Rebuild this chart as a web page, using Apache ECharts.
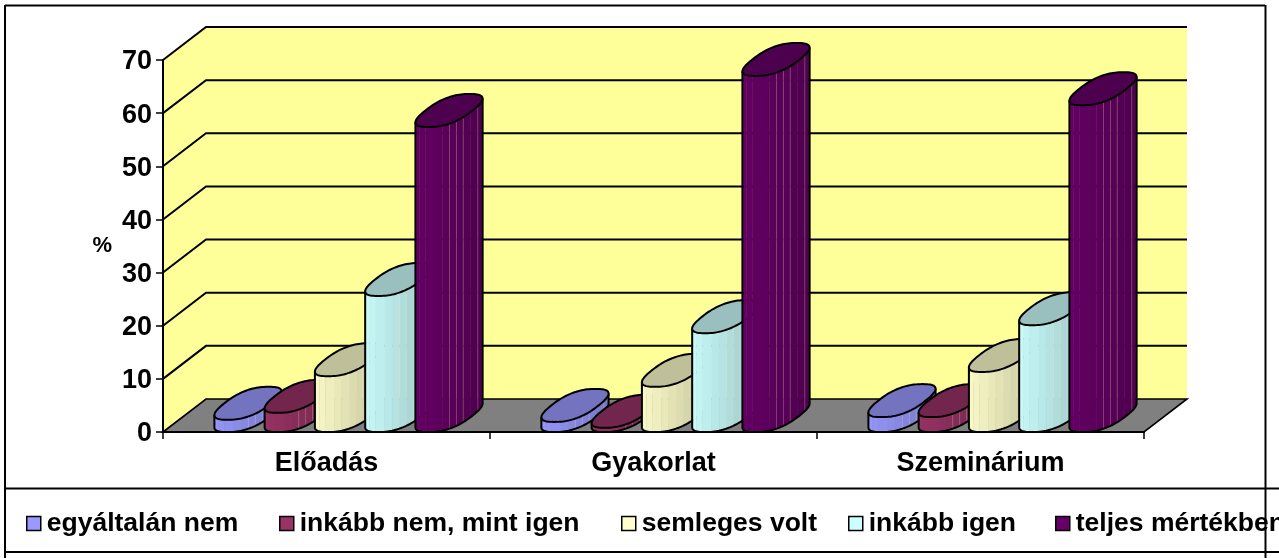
<!DOCTYPE html>
<html><head><meta charset="utf-8">
<style>html,body{margin:0;padding:0;background:#fff;overflow:hidden}#c{width:1279px;height:558px}</style>
<script src="https://cdn.jsdelivr.net/npm/echarts@6/dist/echarts.min.js"></script>
</head><body><div id="c"></div>
<script>
const categories = ['Előadás', 'Gyakorlat', 'Szeminárium'];
const yTicks = [0, 10, 20, 30, 40, 50, 60, 70];
const seriesNames = ['egyáltalán nem', 'inkább nem, mint igen', 'semleges volt', 'inkább igen', 'teljes mértékben'];
const egyaltalanNem = [2.3, 1.9, 2.8];
const inkabbNem = [3.6, 0.8, 2.8];
const semleges = [10.5, 8.5, 11.3];
const inkabbIgen = [25.6, 18.6, 20.1];
const teljesen = [57.4, 67, 61.5];
const allValues = [egyaltalanNem, inkabbNem, semleges, inkabbIgen, teljesen];
const colors = [[153,153,255],[153,51,102],[255,255,204],[204,255,255],[102,0,102]];
const legendLefts = [26, 279, 621, 848, 1055];

const DX = 43, DY = 33, FONT = 'Liberation Sans', POW = 0.8;
const rgb = (c, f) => `rgb(${Math.round(c[0]*f)},${Math.round(c[1]*f)},${Math.round(c[2]*f)})`;
const spow = v => Math.sign(v) * Math.pow(Math.abs(v), POW);

function renderWall(params, api) {
  const cs = params.coordSys;
  const x0 = cs.x, x1 = cs.x + cs.width;
  const yb = api.coord([0, 0])[1], yt = api.coord([0, 70])[1];
  const line = {stroke:'#000', lineWidth:2};
  const kids = [
    {type:'polygon', shape:{points:[[x0,yb],[x0,yt],[x0+DX,yt-DY],[x1+DX,yt-DY],[x1+DX,yb-DY],[x0+DX,yb-DY]]}, style:{fill:'#FFFF99'}},
    {type:'polygon', shape:{points:[[x0,yb],[x0+DX,yb-DY],[x1+DX,yb-DY],[x1,yb]]}, style:{fill:'#808080', stroke:'#000', lineWidth:1.6}}
  ];
  yTicks.forEach(v => {
    if (v === 0) return;
    const y = api.coord([0, v])[1];
    kids.push({type:'polyline', shape:{points:[[x0,y],[x0+DX,y-DY],[x1+DX,y-DY]]}, style:{fill:null, ...line}});
  });
  return {type:'group', children:kids};
}

function makeBar(si) {
  return function (params, api) {
    const band = api.size([1, 0])[0];
    const w = band * 0.1537;
    const front = api.coord([api.value(0), 0]);
    const top = api.coord([api.value(0), api.value(1)]);
    const a = w * 0.47, b = DX * 0.48, h = DY * 0.5;
    const cx = front[0] + (si - 2) * w + DX * 0.5 + 0.5;
    const yBase = front[1] - h, yTop = top[1] - h;
    const P = (t, cy) => [cx + a * spow(Math.cos(t)) + b * spow(Math.sin(t)), cy - h * spow(Math.sin(t))];
    const tR = Math.atan2(b, a), tL = tR + Math.PI, tE = tR + 2 * Math.PI;
    const c = colors[si];
    const kids = [];
    const N = 48, S = 12;
    for (let k = 0; k < S; k++) {
      const pts = [];
      const t0 = tL + (tE - tL) * k / S, t1 = tL + (tE - tL) * (k + 1) / S;
      for (let j = 0; j <= 4; j++) pts.push(P(t0 + (t1 - t0) * j / 4, yTop));
      for (let j = 4; j >= 0; j--) pts.push(P(t0 + (t1 - t0) * j / 4, yBase));
      const f = 1 - 0.25 * k / (S - 1);
      kids.push({type:'polygon', shape:{points:pts}, style:{fill:rgb(c, f), stroke:rgb(c, f), lineWidth:0.5}});
    }
    [6, 7, 8, 10].forEach(k => {
      const t = tL + (tE - tL) * k / S;
      kids.push({type:'line', shape:{x1:P(t,yTop)[0], y1:P(t,yTop)[1], x2:P(t,yBase)[0], y2:P(t,yBase)[1]}, style:{stroke:'rgba(255,255,210,0.22)', lineWidth:1}});
    });
    const sil = [];
    for (let j = 0; j <= N; j++) sil.push(P(tL + (tE - tL) * j / N, yBase));
    sil.push(P(tE, yTop));
    sil.unshift(P(tL, yTop));
    kids.push({type:'polyline', shape:{points:sil}, style:{fill:null, stroke:'#000', lineWidth:2}});
    const cap = [];
    for (let j = 0; j < 2 * N; j++) cap.push(P(Math.PI * j / N, yTop));
    kids.push({type:'polygon', shape:{points:cap}, style:{fill:rgb(c, 0.75), stroke:'#000', lineWidth:2}});
    return {type:'group', children:kids};
  };
}

const barSeries = seriesNames.map((name, si) => ({
  name, type:'custom', z:2, silent:true, animation:false,
  itemStyle:{color:rgb(colors[si], 1)},
  encode:{x:0, y:1},
  renderItem:makeBar(si),
  data: categories.map((cat, ci) => [ci, allValues[si][ci]])
}));

const frameLine = (x1, y1, x2, y2, lw) => ({type:'line', z:10, silent:true, shape:{x1, y1, x2, y2}, style:{stroke:'#000', lineWidth:lw}});

const chart = echarts.init(document.getElementById('c'), null, {renderer:'canvas'});
chart.setOption({
  animation:false,
  backgroundColor:'#fff',
  grid:{left:163, right:135, top:60, bottom:126},
  xAxis:{type:'category', data:categories, z:1,
    axisLine:{lineStyle:{color:'#000', width:2}},
    axisTick:{show:true, length:7, lineStyle:{color:'#000', width:1.5}},
    axisLabel:{color:'#000', fontFamily:FONT, fontWeight:'bold', fontSize:27, margin:18}},
  yAxis:{type:'value', min:0, max:70, interval:10, z:1,
    name:'%', nameLocation:'middle', nameGap:51, nameRotate:0,
    nameTextStyle:{color:'#000', fontFamily:FONT, fontWeight:'bold', fontSize:22},
    axisLine:{show:true, lineStyle:{color:'#000', width:2}},
    axisTick:{show:true, length:7, lineStyle:{color:'#000', width:1.5}},
    splitLine:{show:false},
    axisLabel:{margin:11, formatter:'{a|{value}}',
      rich:{a:{color:'#000', fontFamily:FONT, fontWeight:'bold', fontSize:27, padding:[4,0,0,0]}}}},
  legend:seriesNames.map((name, i) => ({type:'plain', orient:'horizontal', left:legendLefts[i], top:510, width:400, data:[name],
    icon:'rect', itemWidth:14, itemHeight:14, padding:0,
    itemStyle:{borderColor:'#000', borderWidth:1.5},
    textStyle:{color:'#000', fontFamily:FONT, fontWeight:'bold', fontSize:26.5, padding:[0,0,0,1]}})),
  graphic:{elements:[
    frameLine(5, 5.5, 1265, 5.5, 2),
    frameLine(5, 5, 5, 558, 2),
    frameLine(1265.5, 5, 1265.5, 558, 2),
    frameLine(5, 488.5, 1279, 488.5, 2),
    frameLine(5, 552, 1279, 552, 2)
  ]},
  series:[{type:'custom', z:0, silent:true, animation:false, renderItem:renderWall, data:[[0, 0]], encode:{x:0, y:1}}].concat(barSeries)
});
</script></body></html>
